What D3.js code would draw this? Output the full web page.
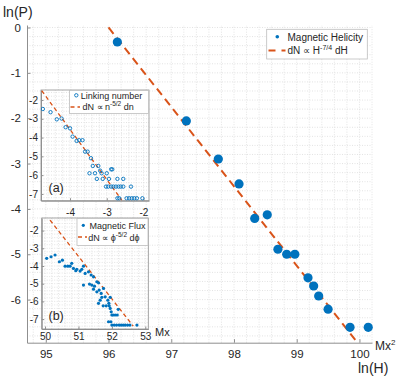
<!DOCTYPE html>
<html>
<head>
<meta charset="utf-8">
<script src="https://cdn.jsdelivr.net/npm/d3@7"></script>
<style>
  body { margin: 0; background: #fff; }
  text { font-family: "Liberation Sans", Arial, sans-serif; fill: #262626; }
</style>
</head>
<body>
<div id="chart"></div>
<script>
// main panel: magnetic helicity
const helicityH = [96.14, 97.24, 97.75, 98.08, 98.33, 98.53, 98.70, 98.84, 98.97, 99.18, 99.27, 99.35, 99.50, 99.85, 100.14];
const helicityP = [-0.32, -2.06, -2.90, -3.45, -4.21, -4.13, -4.89, -5.00, -5.00, -5.52, -5.70, -5.92, -6.21, -6.61, -6.61];
const helicityFit = [[96.0, 0.0], [99.97, -6.95]];
const mainXTicks = [95, 96, 97, 98, 99, 100];
const mainYTicks = [0, -1, -2, -3, -4, -5, -6];

// inset (a): linking number
const linkN = [-4.74, -4.53, -4.36, -4.23, -4.12, -4.00, -3.93, -3.82, -3.75, -3.66, -3.59, -3.52, -3.43, -3.38, -3.23, -3.18, -2.88, -2.85,
  -3.47, -3.32, -3.14, -3.00, -3.27, -3.11, -2.94, -2.71, -2.55,
  -3.02, -2.96, -2.88, -2.82, -2.75, -2.68, -2.62, -2.55, -2.34,
  -2.71, -2.66, -2.46, -2.39, -2.32, -2.25, -2.18, -2.03];
const linkP = [-2.48, -2.65, -3.03, -2.99, -3.45, -3.51, -3.95, -4.18, -4.14, -4.14, -4.75, -4.75, -5.10, -5.51, -5.51, -5.76, -5.69, -5.69,
  -5.90, -5.90, -5.90, -5.90, -6.20, -6.20, -6.20, -6.20, -6.20,
  -6.61, -6.61, -6.61, -6.61, -6.61, -6.61, -6.61, -6.61, -6.61,
  -7.23, -7.23, -7.23, -7.23, -7.23, -7.23, -7.23, -7.23];
const linkFit = [[-4.77, -1.51], [-2.59, -7.33]];
const linkXTicks = [-4, -3, -2];
const linkYTicks = [-2, -3, -4, -5, -6, -7];

// inset (b): magnetic flux
const fluxPhi = [50.05, 50.18, 50.30, 50.43, 50.52, 50.60, 50.68, 50.75, 50.80, 50.85, 50.92, 50.95, 51.05, 51.10, 51.15, 51.20, 51.30, 51.38, 51.45,
  51.15, 51.33, 51.40, 51.48, 51.55, 51.60, 51.45, 51.55, 51.62, 51.68, 51.75, 51.70, 51.80, 51.60, 51.65, 51.74, 51.83, 51.92, 51.88, 51.95, 51.91,
  51.95, 51.98, 52.00, 52.04, 52.10, 52.16, 52.19, 51.90, 51.97,
  52.00, 52.07, 52.14, 52.22, 52.28, 52.34, 52.40, 52.47, 52.54, 52.75];
const fluxP = [-3.57, -3.48, -3.38, -3.76, -3.67, -4.01, -4.01, -4.01, -3.85, -4.14, -4.27, -4.19, -4.29, -4.19, -4.01, -4.42, -4.33, -4.51, -4.61,
  -5.08, -5.02, -5.08, -5.14, -4.89, -4.95, -5.31, -5.46, -5.36, -5.55, -5.27, -5.77, -5.74, -6.11, -5.93, -6.25, -6.25, -6.25, -5.93, -5.77, -6.11,
  -6.40, -6.59, -6.77, -6.77, -6.77, -6.77, -6.45, -7.15, -7.15,
  -7.34, -7.34, -7.34, -7.34, -7.34, -7.34, -7.34, -7.34, -7.34, -7.34];
const fluxFit = [[50.15, -1.41], [52.64, -7.40]];
const fluxXTicks = [50, 51, 52, 53];
const fluxYTicks = [-2, -3, -4, -5, -6, -7];

const blue = "#0072BD";
const orange = "#D95319";
const axisCol = "#8f8f8f";
const gridCol = "#dcdcdc";

const w = 400, h = 380;
const svg = d3.select("#chart").append("svg").attr("width", w).attr("height", h);

// minor grid, dotted, every 0.2
function grid(g, x, y) {
  const xs = d3.range(Math.ceil(x.domain()[0] * 5), Math.floor(x.domain()[1] * 5) + 1).map(d => d / 5);
  const ys = d3.range(Math.ceil(y.domain()[0] * 5), Math.floor(y.domain()[1] * 5) + 1).map(d => d / 5);
  g.selectAll(".gx").data(xs).enter().append("line")
    .attr("x1", d => x(d)).attr("x2", d => x(d))
    .attr("y1", y.range()[0]).attr("y2", y.range()[1])
    .attr("stroke", gridCol).attr("stroke-width", 0.8).attr("stroke-dasharray", "1,1.5");
  g.selectAll(".gy").data(ys).enter().append("line")
    .attr("y1", d => y(d)).attr("y2", d => y(d))
    .attr("x1", x.range()[0]).attr("x2", x.range()[1])
    .attr("stroke", gridCol).attr("stroke-width", 0.8).attr("stroke-dasharray", "1,1.5");
}

function styleAxis(g, fs) {
  g.select(".domain").attr("stroke", axisCol);
  g.selectAll(".tick line").attr("stroke", axisCol);
  g.selectAll("text").attr("fill", "#262626").style("font-size", fs + "px")
    .style("font-family", '"Liberation Sans", Arial, sans-serif');
}

function fitLine(g, x, y, pts, width, dash) {
  g.append("path")
    .attr("d", d3.line().x(d => x(d[0])).y(d => y(d[1]))(pts))
    .attr("fill", "none").attr("stroke", orange)
    .attr("stroke-width", width).attr("stroke-dasharray", dash);
}

// ---------- main panel ----------
const x = d3.scaleLinear().domain([94.7, 100.2]).range([27, 372]);
const y = d3.scaleLinear().domain([-6.95, 0.055]).range([342.7, 25]);

const main = svg.append("g");
grid(main, x, y);

main.append("g")
  .attr("transform", "translate(0," + y.range()[0] + ")")
  .call(d3.axisBottom(x).tickValues(mainXTicks).tickFormat(d => String(d))
    .tickSizeInner(-3.5).tickSizeOuter(0).tickPadding(7))
  .call(g => styleAxis(g, 11.5));

main.append("g")
  .attr("transform", "translate(" + x.range()[0] + ",0)")
  .call(d3.axisLeft(y).tickValues(mainYTicks).tickFormat(d => String(d))
    .tickSizeInner(-3.5).tickSizeOuter(0).tickPadding(6))
  .call(g => styleAxis(g, 11.5));

fitLine(main, x, y, helicityFit, 2, "8,5");

main.selectAll(".hel").data(helicityH).enter().append("circle")
  .attr("cx", d => x(d))
  .attr("cy", (d, i) => y(helicityP[i]))
  .attr("r", 4.6)
  .attr("fill", blue);

// main legend
const lg = main.append("g");
lg.append("rect").attr("x", 266.7).attr("y", 29.3).attr("width", 100.6).attr("height", 29.7)
  .attr("fill", "#fff").attr("stroke", "#bdbdbd").attr("stroke-width", 0.8);
lg.append("circle").attr("cx", 277.3).attr("cy", 36.8).attr("r", 1.8).attr("fill", blue);
lg.append("text").attr("x", 287.5).attr("y", 40.5).style("font-size", "10px").text("Magnetic Helicity");
lg.append("line").attr("x1", 268.5).attr("x2", 285.5).attr("y1", 50.5).attr("y2", 50.5)
  .attr("stroke", orange).attr("stroke-width", 2).attr("stroke-dasharray", "7,6");
const lt = lg.append("text").attr("x", 287.5).attr("y", 54.3).style("font-size", "10px");
lt.append("tspan").text("dN \u221D H");
lt.append("tspan").attr("dy", -4.5).style("font-size", "7px").text("-7/4");
lt.append("tspan").attr("dy", 4.5).text(" dH");

// axis labels
svg.append("text").attr("x", 3).attr("y", 17).style("font-size", "14px").text("ln(P)");
svg.append("text").attr("x", 358).attr("y", 373).style("font-size", "14px").text("ln(H)");
const mx2 = svg.append("text").attr("x", 375).attr("y", 350).style("font-size", "12px");
mx2.append("tspan").text("Mx");
mx2.append("tspan").attr("dy", -5).style("font-size", "8px").text("2");

// ---------- insets ----------
function inset(opts) {
  const g = svg.append("g");
  const ix = d3.scaleLinear().domain(opts.xd).range([opts.x0, opts.x1]);
  const iy = d3.scaleLinear().domain(opts.yd).range([opts.y1, opts.y0]);
  g.append("rect").attr("x", opts.x0).attr("y", opts.y0)
    .attr("width", opts.x1 - opts.x0).attr("height", opts.y1 - opts.y0).attr("fill", "#fff");
  grid(g, ix, iy);

  g.append("g").attr("transform", "translate(0," + opts.y1 + ")")
    .call(d3.axisBottom(ix).tickValues(opts.xt).tickFormat(d => String(d))
      .tickSizeInner(-2.5).tickSizeOuter(0).tickPadding(opts.xpad))
    .call(a => styleAxis(a, 10));
  g.append("g").attr("transform", "translate(" + opts.x0 + ",0)")
    .call(d3.axisLeft(iy).tickValues(opts.yt).tickFormat(d => String(d))
      .tickSizeInner(-2.5).tickSizeOuter(0).tickPadding(3))
    .call(a => styleAxis(a, 10));
  g.append("rect").attr("x", opts.x0).attr("y", opts.y0)
    .attr("width", opts.x1 - opts.x0).attr("height", opts.y1 - opts.y0)
    .attr("fill", "none").attr("stroke", axisCol).attr("stroke-width", 0.8);

  const clipId = "clip" + opts.name;
  g.append("clipPath").attr("id", clipId).append("rect")
    .attr("x", opts.x0).attr("y", opts.y0)
    .attr("width", opts.x1 - opts.x0).attr("height", opts.y1 - opts.y0);
  const plot = g.append("g").attr("clip-path", "url(#" + clipId + ")");
  fitLine(plot, ix, iy, opts.fit, 1.3, "4,3");

  if (opts.open) {
    plot.selectAll(".pt").data(opts.xs).enter().append("circle")
      .attr("cx", d => ix(d)).attr("cy", (d, i) => iy(opts.ys[i]))
      .attr("r", 1.7).attr("fill", "none").attr("stroke", blue).attr("stroke-width", 0.9);
  } else {
    plot.selectAll(".pt").data(opts.xs).enter().append("circle")
      .attr("cx", d => ix(d)).attr("cy", (d, i) => iy(opts.ys[i]))
      .attr("r", 1.6).attr("fill", blue);
  }
  return g;
}

const ga = inset({
  name: "a", x0: 41, x1: 149, y0: 90, y1: 200.7,
  xd: [-4.79, -1.85], yd: [-7.36, -1.47],
  xt: linkXTicks, yt: linkYTicks, xpad: 8,
  xs: linkN, ys: linkP, fit: linkFit, open: true
});
const la = ga.append("g");
la.append("rect").attr("x", 69.5).attr("y", 90.5).attr("width", 79).attr("height", 23)
  .attr("fill", "#fff").attr("stroke", "#bdbdbd").attr("stroke-width", 0.8);
la.append("circle").attr("cx", 76.3).attr("cy", 95.3).attr("r", 1.7)
  .attr("fill", "none").attr("stroke", blue).attr("stroke-width", 0.9);
la.append("text").attr("x", 80.7).attr("y", 98.6).style("font-size", "9px").text("Linking number");
la.append("line").attr("x1", 70.5).attr("x2", 80).attr("y1", 107).attr("y2", 107)
  .attr("stroke", orange).attr("stroke-width", 1.3).attr("stroke-dasharray", "4,3");
const lta = la.append("text").attr("x", 82.5).attr("y", 110.3).style("font-size", "9px");
lta.append("tspan").text("dN \u221D n");
lta.append("tspan").attr("dy", -4).style("font-size", "6.5px").text("-5/2");
lta.append("tspan").attr("dy", 4).text(" dn");
ga.append("text").attr("x", 48.5).attr("y", 192).style("font-size", "12.5px").text("(a)");

const gb = inset({
  name: "b", x0: 41.7, x1: 148.3, y0: 218, y1: 329,
  xd: [49.9, 53.09], yd: [-7.56, -1.29],
  xt: fluxXTicks, yt: fluxYTicks, xpad: 4,
  xs: fluxPhi, ys: fluxP, fit: fluxFit, open: false
});
const lb = gb.append("g");
lb.append("rect").attr("x", 77).attr("y", 218.5).attr("width", 71).attr("height", 27)
  .attr("fill", "#fff").attr("stroke", "#bdbdbd").attr("stroke-width", 0.8);
lb.append("circle").attr("cx", 83.3).attr("cy", 225.3).attr("r", 1.6).attr("fill", blue);
lb.append("text").attr("x", 89.5).attr("y", 228.6).style("font-size", "9px").text("Magnetic Flux");
lb.append("line").attr("x1", 78).attr("x2", 87).attr("y1", 237).attr("y2", 237)
  .attr("stroke", orange).attr("stroke-width", 1.3).attr("stroke-dasharray", "4,3");
const ltb = lb.append("text").attr("x", 88.3).attr("y", 240.5).style("font-size", "9px");
ltb.append("tspan").text("dN \u221D \u03D5");
ltb.append("tspan").attr("dy", -4).style("font-size", "6.5px").text("-5/2");
ltb.append("tspan").attr("dy", 4).text(" d\u03D5");
gb.append("text").attr("x", 48.5).attr("y", 320).style("font-size", "12.5px").text("(b)");
svg.append("text").attr("x", 155).attr("y", 335.5).style("font-size", "11px").text("Mx");
</script>
</body>
</html>
